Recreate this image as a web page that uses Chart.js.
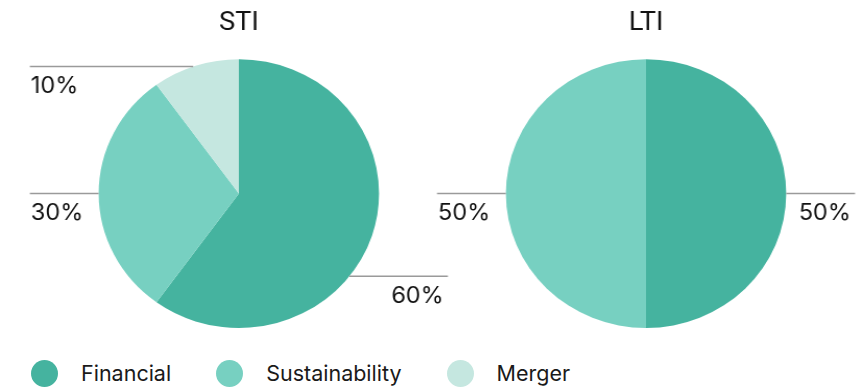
<!DOCTYPE html>
<html>
<head>
<meta charset="utf-8">
<script src="https://cdn.jsdelivr.net/npm/chart.js@4/dist/chart.umd.min.js"></script>
<style>
  body { margin: 0; background: #fff; width: 865px; height: 391px; position: relative; overflow: hidden; }
  .pie { position: absolute; top: 0; transform: scaleX(1.043); transform-origin: 0 0; }
  #sti { left: 0; }
  #lti { left: 426.5px; }
  #legend { position: absolute; left: 31px; top: 359px; height: 28px; display: flex; align-items: center;
    font-family: Inter, "Noto Sans", sans-serif; font-size: 21.5px; color: #1a1a1a; }
  #legend .item { display: flex; align-items: center; margin-right: 45px; }
  #legend .dot { width: 27px; height: 27px; border-radius: 50%; margin-right: 23px; }
</style>
</head>
<body>
<canvas id="sti" class="pie" width="458" height="340"></canvas>
<canvas id="lti" class="pie" width="420" height="340"></canvas>
<div id="legend"></div>
<script>
const categories = ['Financial', 'Sustainability', 'Merger'];
const colors = ['#45b39f', '#77d0c1', '#c5e7e0'];
const stiValues = [60, 30, 10];
const ltiValues = [50, 50, 0];

// leader lines: angle on the circle (deg clockwise from top) and side
const leaderPlugin = {
  id: 'leaders',
  afterDatasetsDraw(chart, args, opts) {
    const ctx = chart.ctx;
    const arc = chart.getDatasetMeta(0).data[0];
    const cx = arc.x, cy = arc.y, r = arc.outerRadius;
    const values = chart.data.datasets[0].data;
    ctx.save();
    opts.leaders.forEach((l, i) => {
      if (l == null || !values[i]) return;
      const a = l.angle * Math.PI / 180;
      const py = cy - r * Math.cos(a);
      const px = cx + r * Math.sin(a);
      const ox = l.side === 'left' ? cx - r - 66 : cx + r + 66;
      ctx.strokeStyle = '#9a9a9a';
      ctx.lineWidth = 1.5;
      ctx.beginPath();
      ctx.moveTo(ox, py);
      ctx.lineTo(px, py);
      ctx.stroke();
      ctx.fillStyle = '#111';
      ctx.font = '22.5px Inter, "Noto Sans", sans-serif';
      ctx.textBaseline = 'alphabetic';
      ctx.textAlign = l.side === 'left' ? 'left' : 'right';
      const tx = l.side === 'left' ? ox + 1 : ox - 4;
      ctx.fillText(values[i] + '%', tx, py + 26.5);
    });
    ctx.restore();
  }
};

function makePie(id, title, values, leaders) {
  return new Chart(document.getElementById(id), {
    type: 'pie',
    data: {
      labels: categories,
      datasets: [{
        data: values,
        backgroundColor: colors,
        borderWidth: 0
      }]
    },
    options: {
      responsive: false,
      animation: false,
      layout: { padding: { top: 0, bottom: 12, left: 0, right: 0 } },
      plugins: {
        legend: { display: false },
        tooltip: { enabled: false },
        title: {
          display: true,
          text: title,
          color: '#111',
          font: { family: 'Roboto', size: 26, weight: 'normal' },
          padding: { top: 8, bottom: 20 }
        },
        leaders: { leaders: leaders }
      }
    },
    plugins: [leaderPlugin]
  });
}

makePie('sti', 'STI', stiValues, [
  { angle: 128, side: 'right' },
  { angle: 270, side: 'left' },
  { angle: 341, side: 'left' }
]);
makePie('lti', 'LTI', ltiValues, [
  { angle: 90, side: 'right' },
  { angle: 270, side: 'left' },
  null
]);

const legend = document.getElementById('legend');
categories.forEach((c, i) => {
  const item = document.createElement('div');
  item.className = 'item';
  item.innerHTML = '<span class="dot" style="background:' + colors[i] + '"></span><span>' + c + '</span>';
  legend.appendChild(item);
});
</script>
</body>
</html>
